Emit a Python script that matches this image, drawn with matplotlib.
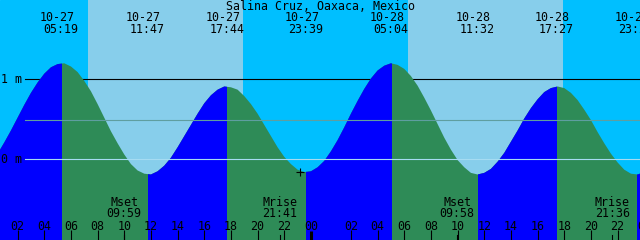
import numpy as np
import matplotlib
matplotlib.use("Agg")
import matplotlib.pyplot as plt
import matplotlib.transforms as mtransforms

# hours counted from 10-27 00:00 local (CDT); the clock falls back one hour on 10-28
hours = np.arange(0.5, 49.01, 0.5)
level = [0.07, 0.21, 0.36, 0.52, 0.68, 0.83, 0.96, 1.07, 1.15, 1.19,
         1.20, 1.16, 1.09, 0.98, 0.85, 0.69, 0.52, 0.35, 0.20, 0.06,
         -0.06, -0.14, -0.18, -0.19, -0.15, -0.08, 0.02, 0.15, 0.29, 0.43,
         0.57, 0.70, 0.80, 0.87, 0.91, 0.90, 0.87, 0.79, 0.69, 0.57,
         0.43, 0.29, 0.15, 0.03, -0.06, -0.13, -0.16, -0.15, -0.10, -0.02,
         0.10, 0.24, 0.40, 0.57, 0.73, 0.88, 1.01, 1.11, 1.17, 1.20,
         1.18, 1.13, 1.04, 0.92, 0.77, 0.61, 0.44, 0.27, 0.12, -0.01,
         -0.10, -0.17, -0.19, -0.17, -0.12, -0.03, 0.08, 0.22, 0.36, 0.51,
         0.64, 0.75, 0.84, 0.89, 0.91, 0.89, 0.83, 0.74, 0.62, 0.49,
         0.34, 0.20, 0.07, -0.04, -0.13, -0.18, -0.19, -0.16]

# high / low tide events
tide_hours = [5.317, 11.783, 17.733, 23.65, 30.067, 36.533, 42.45, 48.43]
tide_dates = ["10-27", "10-27", "10-27", "10-27", "10-28", "10-28", "10-28", "10-28"]
tide_times = ["05:19", "11:47", "17:44", "23:39", "05:04", "11:32", "17:27", "23:26"]
rising = [(-1.3, 5.317), (11.783, 17.733), (23.65, 30.067), (36.533, 42.45), (48.43, 55.0)]

# daylight
day_spans = [(7.28, 18.93), (31.28, 42.93)]

# moon
moon_hours = [9.983, 21.683, 34.967, 46.6]
moon_names = ["Mset", "Mrise", "Mset", "Mrise"]
moon_times = ["09:59", "21:41", "09:58", "21:36"]

# hour axis
tick_hours = [2, 4, 6, 8, 10, 12, 14, 16, 18, 20, 22, 24,
              27, 29, 31, 33, 35, 37, 39, 41, 43, 45, 47, 49]
tick_labels = ["02", "04", "06", "08", "10", "12", "14", "16", "18", "20", "22", "00",
               "02", "04", "06", "08", "10", "12", "14", "16", "18", "20", "22", "00"]

now_hour, now_level = 23.18, -0.16
mean_level = 0.49
title = "Salina Cruz, Oaxaca, Mexico"

NIGHT = "#00bfff"
DAY = "#87ceeb"
FLOOD = "#0000ff"
EBB = "#2e8b57"
FONT = dict(family="DejaVu Sans Mono", fontsize=8.4, color="black")

fig = plt.figure(figsize=(6.4, 2.4), dpi=100)
ax = fig.add_axes([0, 0, 1, 1])
ax.set_xlim(0.68, 48.68)
ax.set_ylim(-1.009, 1.991)
ax.axis("off")
ax.add_patch(plt.Rectangle((0, 0), 1, 1, transform=ax.transAxes, color=NIGHT, zorder=0))
for a, b in day_spans:
    ax.axvspan(a, b, color=DAY, lw=0, zorder=0.5)

ax.axhline(1.0, xmin=25 / 640, color="black", lw=0.8, zorder=1)

poly = ax.fill_between(hours, -2, level, color=EBB, lw=0, zorder=2)
clip = poly.get_paths()[0]
for a, b in rising:
    r = ax.axvspan(a, b, color=FLOOD, lw=0, zorder=2.1)
    r.set_clip_path(clip, ax.transData)

ax.axhline(mean_level, xmin=25 / 640, color="#5f9ea0", lw=0.8, zorder=3)
ax.axhline(0.0, xmin=25 / 640, color="#a6dcf2", lw=0.8, zorder=3)

ax.text(1 / 640, 1 - 83.3 / 240, "1 m", transform=ax.transAxes, ha="left", va="baseline", **FONT)
ax.text(1 / 640, 1 - 163.3 / 240, "0 m", transform=ax.transAxes, ha="left", va="baseline", **FONT)

ax.text(0.5, 1 - 9.5 / 240, title, transform=ax.transAxes, ha="center", va="baseline", **FONT)

top = mtransforms.blended_transform_factory(ax.transData, ax.transAxes)
for t, d, s in zip(tide_hours, tide_dates, tide_times):
    ax.text(t - 0.33, 1 - 20.7 / 240, d, transform=top, ha="center", va="baseline", **FONT)
    ax.text(t - 0.05, 1 - 33.3 / 240, s, transform=top, ha="center", va="baseline", **FONT)

for t, n, s in zip(moon_hours, moon_names, moon_times):
    ax.text(t, 1 - 206 / 240, n, transform=top, ha="center", va="baseline", **FONT)
    ax.text(t, 1 - 217.3 / 240, s, transform=top, ha="center", va="baseline", **FONT)
    ax.plot([t, t], [0, 5 / 240], transform=top, color="black", lw=0.8, zorder=4)

for t, s in zip(tick_hours, tick_labels):
    ax.text(t, 1 - 230 / 240, s, transform=top, ha="center", va="baseline", **FONT)
    if s == "00":
        ax.plot([t, t], [0, 9 / 240], transform=top, color="black", lw=2.2,
                solid_capstyle="butt", zorder=4)
    else:
        ax.plot([t, t], [0, 10 / 240], transform=top, color="black", lw=0.8,
                solid_capstyle="butt", zorder=4)

ax.plot(now_hour, now_level, marker="+", color="black", ms=5.5, mew=0.8, zorder=5)

fig.savefig("out.png", dpi=100)
